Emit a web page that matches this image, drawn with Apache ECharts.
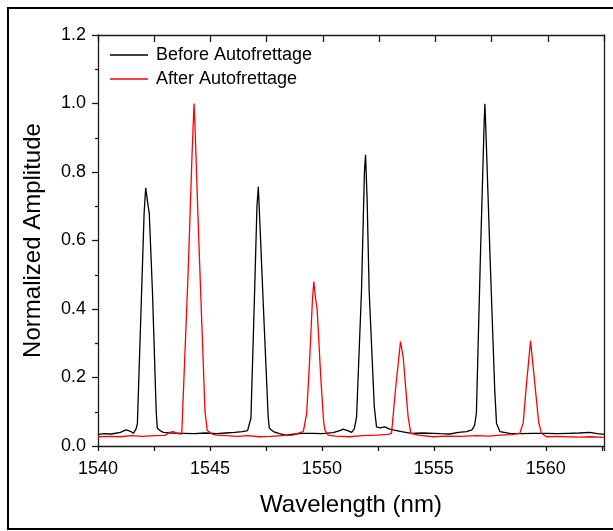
<!DOCTYPE html>
<html>
<head lang="en">
    <meta charset="UTF-8">
    <title>Autofrettage spectrum</title>
    <script src="https://cdn.jsdelivr.net/npm/echarts@6/dist/echarts.min.js"></script>
    <style>
        html, body {
            margin: 0;
            padding: 0;
            background: #fff;
        }

        #chart {
            width: 613px;
            height: 531px;
        }
    </style>
</head>
<body>
<div id="chart"></div>

<script>
    // before autofrettage (black)
    var beforeWavelength = [1540.0, 1540.3, 1540.6, 1541.0, 1541.25, 1541.45, 1541.58, 1541.7, 1541.76, 1541.95, 1542.06, 1542.13,
        1542.22, 1542.29, 1542.43, 1542.6, 1542.65, 1542.77, 1542.92, 1543.3, 1543.8, 1544.3, 1544.8, 1545.3, 1545.7,
        1546.1, 1546.45, 1546.68, 1546.83, 1546.98, 1547.1, 1547.16, 1547.25, 1547.38, 1547.6, 1547.65, 1547.83,
        1548.1, 1548.4, 1548.8, 1549.1, 1549.6, 1550.0, 1550.5, 1550.8, 1550.95, 1551.15, 1551.33, 1551.45, 1551.55,
        1551.77, 1551.9, 1551.95, 1552.02, 1552.11, 1552.34, 1552.44, 1552.6, 1552.81, 1553.0, 1553.18, 1553.56,
        1554.0, 1554.5, 1554.97, 1555.3, 1555.71, 1556.1, 1556.46, 1556.7, 1556.82, 1556.9, 1557.08, 1557.25,
        1557.28, 1557.32, 1557.51, 1557.72, 1557.8, 1557.95, 1558.39, 1558.9, 1559.4, 1560.0, 1560.5, 1561.0,
        1561.5, 1561.96, 1562.3, 1562.6];
    var beforeAmplitude = [0.034, 0.036, 0.035, 0.040, 0.047, 0.043, 0.037, 0.050, 0.066, 0.455, 0.68, 0.754,
        0.71, 0.679, 0.455, 0.10, 0.052, 0.045, 0.040, 0.038, 0.037, 0.036, 0.038, 0.036, 0.038,
        0.040, 0.042, 0.045, 0.081, 0.417, 0.70, 0.757, 0.62, 0.417, 0.086, 0.052, 0.042,
        0.036, 0.032, 0.035, 0.037, 0.037, 0.036, 0.039, 0.045, 0.049, 0.045, 0.040, 0.050, 0.086,
        0.455, 0.80, 0.85, 0.72, 0.455, 0.115, 0.056, 0.053, 0.056, 0.050, 0.047, 0.042,
        0.037, 0.038, 0.037, 0.036, 0.035, 0.040, 0.042, 0.047, 0.060, 0.095, 0.553, 0.95,
        0.999, 0.93, 0.553, 0.163, 0.066, 0.042, 0.037, 0.036, 0.037, 0.037, 0.036, 0.037,
        0.038, 0.040, 0.036, 0.034];

    // after autofrettage (red)
    var afterWavelength = [1540.0, 1540.5, 1541.0, 1541.5, 1542.0, 1542.5, 1543.0, 1543.2, 1543.36, 1543.55, 1543.74,
        1543.81, 1544.03, 1544.2, 1544.29, 1544.33, 1544.45, 1544.55, 1544.78, 1544.88, 1545.1, 1545.3, 1545.7,
        1546.2, 1546.7, 1547.2, 1547.7, 1548.2, 1548.7, 1549.02, 1549.17, 1549.32, 1549.46, 1549.58, 1549.64,
        1549.7, 1549.79, 1549.95, 1550.08, 1550.13, 1550.28, 1550.6, 1551.25, 1551.8, 1552.44, 1552.96, 1553.11,
        1553.3, 1553.51, 1553.63, 1553.85, 1553.97, 1554.3, 1554.97, 1555.5, 1556.2, 1556.9, 1557.5, 1557.95,
        1558.5, 1558.84, 1558.99, 1559.14, 1559.32, 1559.51, 1559.68, 1559.81, 1560.03, 1560.5, 1560.92,
        1561.5, 1562.0, 1562.6];
    var afterAmplitude = [0.027, 0.028, 0.027, 0.030, 0.028, 0.030, 0.031, 0.040, 0.042, 0.036, 0.035,
        0.037, 0.514, 0.85, 1.0, 0.94, 0.70, 0.514, 0.10, 0.045, 0.035, 0.032, 0.030,
        0.028, 0.030, 0.027, 0.028, 0.030, 0.032, 0.039, 0.042, 0.095, 0.26, 0.43, 0.48,
        0.44, 0.397, 0.20, 0.07, 0.047, 0.032, 0.029, 0.027, 0.030, 0.032, 0.034, 0.037,
        0.173, 0.305, 0.26, 0.086, 0.037, 0.032, 0.027, 0.029, 0.028, 0.030, 0.029, 0.032,
        0.033, 0.037, 0.066, 0.183, 0.307, 0.183, 0.07, 0.037, 0.027, 0.028, 0.027,
        0.026, 0.027, 0.025];

    var seriesNames = ['Before Autofrettage', 'After Autofrettage'];

    function pairs(xs, ys) {
        var out = [];
        for (var i = 0; i < xs.length; i++) {
            out.push([xs[i], ys[i]]);
        }
        return out;
    }

    var font = 'Liberation Sans, Arial, sans-serif';
    var axisColor = '#1a1a1a';

    var myChart = echarts.init(document.getElementById('chart'), null, {renderer: 'canvas'});

    var option = {
        backgroundColor: '#fff',
        animation: false,
        textStyle: {fontFamily: font},
        grid: {
            left: 98,
            top: 35,
            right: 9,
            bottom: 85,
            containLabel: false,
            outerBoundsMode: 'none'
        },
        legend: {
            data: [
                {name: seriesNames[0], icon: 'rect', itemStyle: {color: '#000'}},
                {name: seriesNames[1], icon: 'rect', itemStyle: {color: '#ff0000'}}
            ],
            orient: 'vertical',
            left: 110,
            top: 46,
            padding: 0,
            itemWidth: 38,
            itemHeight: 1.5,
            itemGap: 6,
            textStyle: {fontFamily: font, fontSize: 18, color: '#000', padding: [0, 0, 0, 3]}
        },
        // outer frame round the whole picture
        graphic: [{
            type: 'rect',
            shape: {x: 8, y: 8, width: 610, height: 521},
            style: {fill: null, stroke: '#000', lineWidth: 2},
            silent: true
        }],
        xAxis: [{
            type: 'value',
            position: 'bottom',
            min: 1540,
            max: 1562.6,
            interval: 2.5,
            name: 'Wavelength (nm)',
            nameLocation: 'middle',
            nameGap: 47,
            nameTextStyle: {fontFamily: font, fontSize: 24, color: '#000'},
            axisLine: {onZero: false, lineStyle: {color: axisColor, width: 1.3}},
            axisTick: {show: true, inside: false, length: 5, lineStyle: {color: axisColor, width: 1.3}},
            axisLabel: {
                margin: 14,
                fontFamily: font,
                fontSize: 18,
                color: '#000',
                formatter: function (v) {
                    return Math.abs(v % 5) < 1e-6 ? String(v) : '';
                }
            },
            splitLine: {show: false}
        }, {
            type: 'value',
            position: 'top',
            min: 1540,
            max: 1562.5,
            interval: 2.5,
            axisLine: {onZero: false, lineStyle: {color: axisColor, width: 1.3}},
            axisTick: {show: true, inside: true, length: 7, lineStyle: {color: axisColor, width: 1.3}},
            axisLabel: {show: false},
            splitLine: {show: false}
        }],
        yAxis: [{
            type: 'value',
            position: 'left',
            min: 0,
            max: 1.2,
            interval: 0.2,
            name: 'Normalized Amplitude',
            nameLocation: 'middle',
            nameGap: 53,
            nameTextStyle: {fontFamily: font, fontSize: 24, color: '#000'},
            axisLine: {show: true, onZero: false, lineStyle: {color: axisColor, width: 1.3}},
            axisTick: {show: true, inside: false, length: 6, lineStyle: {color: axisColor, width: 1.3}},
            minorTick: {show: true, splitNumber: 2, length: 3, lineStyle: {color: axisColor, width: 1.3}},
            axisLabel: {
                margin: 12,
                fontFamily: font,
                fontSize: 18,
                color: '#000',
                formatter: function (v) {
                    return v.toFixed(1);
                }
            },
            splitLine: {show: false},
            minorSplitLine: {show: false}
        }, {
            type: 'value',
            position: 'right',
            min: 0,
            max: 1.2,
            interval: 0.2,
            axisLine: {show: true, onZero: false, lineStyle: {color: axisColor, width: 1.3}},
            axisTick: {show: false},
            axisLabel: {show: false},
            splitLine: {show: false}
        }],
        series: [{
            name: seriesNames[0],
            type: 'line',
            xAxisIndex: 0,
            yAxisIndex: 0,
            symbol: 'none',
            color: '#000',
            lineStyle: {color: '#000', width: 1.3},
            data: pairs(beforeWavelength, beforeAmplitude)
        }, {
            name: seriesNames[1],
            type: 'line',
            xAxisIndex: 0,
            yAxisIndex: 0,
            symbol: 'none',
            color: '#ff0000',
            lineStyle: {color: '#ff0000', width: 1.3},
            data: pairs(afterWavelength, afterAmplitude)
        }]
    };

    myChart.setOption(option);
</script>
</body>
</html>
